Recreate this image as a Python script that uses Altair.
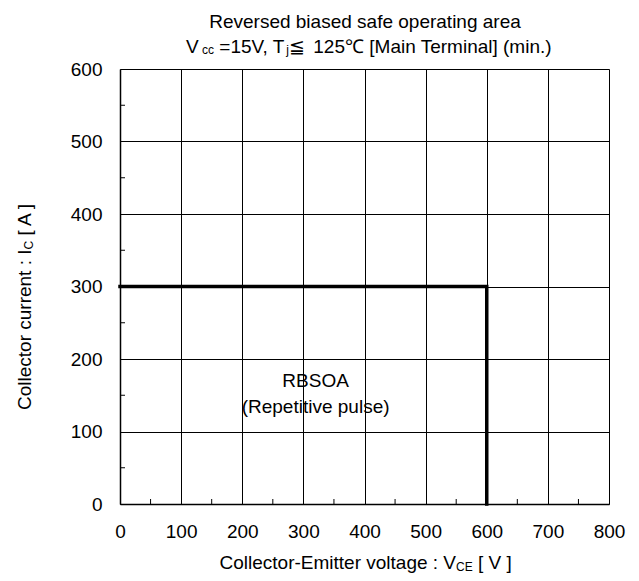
import altair as alt
import pandas as pd

# ---------------- data ----------------
boundary_v = [0, 600, 600]          # Collector-Emitter voltage [V]
boundary_i = [300, 300, 0]          # Collector current [A]
x_ticks = [0, 100, 200, 300, 400, 500, 600, 700, 800]
y_ticks = [0, 100, 200, 300, 400, 500, 600]
minor_x = [50, 150, 250, 350, 450, 550, 650, 750]
minor_y = [50, 150, 250, 350, 450, 550]
label_x = [320, 320]
label_y = [169, 134]
label_txt = ["RBSOA", "(Repetitive pulse)"]

title1 = "Reversed biased safe operating area"
# (text, is_subscript)
title2 = [("V", False), (" cc", True), (" =15V, T", False), ("j", True),
          ("≦", False), (" 125℃ [Main Terminal] (min.)", False)]
xtitle = [("Collector-Emitter voltage : V", False), ("CE", True), (" [ V ]", False)]
ytitle = [("Collector current : I", False), ("C", True), (" [ A ]", False)]

# ---------------- layout ----------------
FONT = "Liberation Sans"
FS = 19
FS_SUB = 12
W, H = 489, 435
OX, OY = 120, 69  # page position of plot origin

AW = {' ': 278, '!': 278, '(': 333, ')': 333, '.': 278, ',': 278, '-': 333, ':': 278,
      '=': 584, '[': 278, ']': 278, 'A': 667, 'B': 667, 'C': 722, 'E': 667, 'I': 278,
      'M': 833, 'O': 778, 'R': 722, 'S': 667, 'T': 611, 'V': 667, 'a': 556, 'b': 556,
      'c': 500, 'd': 556, 'e': 556, 'f': 278, 'g': 556, 'i': 222, 'j': 222, 'l': 222,
      'm': 833, 'n': 556, 'o': 556, 'p': 556, 'r': 333, 's': 500, 't': 278, 'u': 556,
      'v': 500, '≦': 1000, '℃': 1000}
for d in "0123456789":
    AW[d] = 556


def tw(s, size):
    return sum(AW.get(c, 600) for c in s) * size / 1000.0


one = pd.DataFrame({"k": [0]})


def piece(text, x, y, size=FS, angle=0, align="left", baseline="alphabetic"):
    kw = dict(text=text, font=FONT, fontSize=size, color="black",
              align=align, baseline=baseline)
    if angle:
        kw["angle"] = angle
    return alt.Chart(one).mark_text(**kw).encode(
        x=alt.value(x - OX), y=alt.value(y - OY))


def run(pieces, start, fixed, horizontal=True, angle=0):
    """Chain text pieces along a line; leading spaces are turned into offsets
    because SVG collapses them."""
    out = []
    pos = start
    for txt, sub in pieces:
        size = FS_SUB if sub else FS
        stripped = txt.lstrip(" ")
        lead = tw(txt[:len(txt) - len(stripped)], size)
        step = tw(txt, size)
        p = pos + lead if horizontal else pos - lead
        off = 1.5 if sub else 0
        if horizontal:
            out.append(piece(stripped, p, fixed + off, size))
            pos += step
        else:
            out.append(piece(stripped, fixed + off, p, size, angle=angle))
            pos -= step
    return out


layers = []

xs = alt.Scale(domain=[0, 800], nice=False)
ys = alt.Scale(domain=[0, 600], nice=False)
axis_common = dict(title=None, labelPadding=18, labelFontSize=FS, labelFont=FONT,
                   labelColor="black", labelFlush=False, labelOverlap=False,
                   grid=True, gridColor="#000000", gridOpacity=1, gridWidth=1,
                   ticks=False, domainColor="black", domainWidth=1.5)

df_b = pd.DataFrame({"v": boundary_v, "i": boundary_i, "o": list(range(len(boundary_v)))})
base = alt.Chart(df_b).mark_line(color="black", strokeWidth=3.5, strokeCap="square",
                                 strokeJoin="miter").encode(
    x=alt.X("v:Q", scale=xs, axis=alt.Axis(values=x_ticks, **axis_common)),
    y=alt.Y("i:Q", scale=ys, axis=alt.Axis(values=y_ticks, **axis_common)),
    order="o:Q",
)
layers.append(base)

# minor ticks (inward)
mx = alt.Chart(pd.DataFrame({"v": minor_x})).mark_rule(color="black", strokeWidth=1).encode(
    x=alt.X("v:Q", scale=xs), y=alt.value(H), y2=alt.value(H - 5))
my = alt.Chart(pd.DataFrame({"i": minor_y})).mark_rule(color="black", strokeWidth=1).encode(
    y=alt.Y("i:Q", scale=ys), x=alt.value(0), x2=alt.value(5))
layers += [mx, my]

# annotation
ann = alt.Chart(pd.DataFrame({"v": label_x, "i": label_y, "t": label_txt})).mark_text(
    font=FONT, fontSize=FS, color="black", align="center", baseline="middle").encode(
    x=alt.X("v:Q", scale=xs), y=alt.Y("i:Q", scale=ys), text="t:N")
layers.append(ann)

# titles
layers.append(piece(title1, 365, 28, align="center"))
layers += run(title2, 186, 52.5)
layers += run(xtitle, 219.5, 569)
layers += run(ytitle, 410, 31, horizontal=False, angle=270)

chart = alt.layer(*layers).properties(
    width=W, height=H,
    autosize=alt.AutoSizeParams(type="none"),
    padding={"left": OX - 8, "top": OY - 8, "right": 639 - 16 - (OX - 8) - W,
             "bottom": 581 - 16 - (OY - 8) - H},
).configure_view(stroke="black", strokeWidth=1.5).configure(background="white")

chart.save("out.html", embed_options={"renderer": "svg", "actions": False})
